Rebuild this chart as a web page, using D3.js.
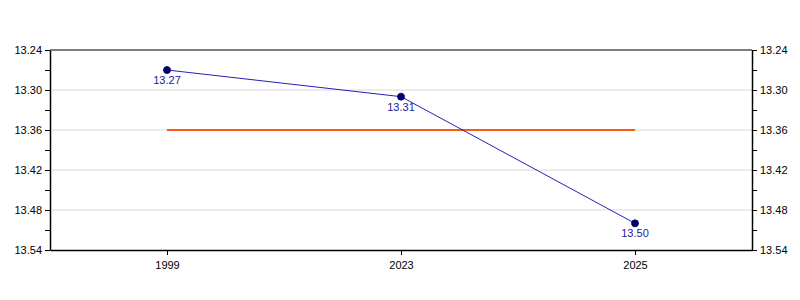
<!DOCTYPE html>
<html>
<head>
<meta charset="utf-8">
<script src="https://cdn.jsdelivr.net/npm/d3@7"></script>
<style>
  body { margin: 0; background: #fff; }
  svg { display: block; font-family: 'Liberation Sans', Arial, sans-serif; }
  .axis text { font-size: 11px; fill: #000; }
  .axis path, .axis line { stroke: #000; }
</style>
</head>
<body>
<script>
const years = ['1999', '2023', '2025']
const values = [13.27, 13.31, 13.50]
const refValue = 13.36
const yTicks = [13.24, 13.30, 13.36, 13.42, 13.48, 13.54]
const yMinorTicks = [13.27, 13.33, 13.39, 13.45, 13.51]

const margin = { top: 50, right: 48, bottom: 50, left: 50 }
const width = 800 - margin.left - margin.right
const height = 300 - margin.top - margin.bottom

const svg = d3.select('body').append('svg')
  .attr('width', 800)
  .attr('height', 300)
  .append('g')
    .attr('transform', `translate(${margin.left}, ${margin.top})`)

const xScale = d3.scalePoint().domain(years).range([0, width]).padding(0.5)
const yScale = d3.scaleLinear().domain([13.24, 13.54]).range([0, height])

// gridlines
svg.append('g')
  .selectAll('line')
  .data(yTicks.slice(1, -1))
  .enter().append('line')
    .attr('x1', 0)
    .attr('x2', width)
    .attr('y1', d => yScale(d))
    .attr('y2', d => yScale(d))
    .attr('stroke', '#d9d9d9')
    .attr('stroke-width', 1)

const fmt = d3.format('.2f')

svg.append('g')
  .attr('class', 'axis')
  .call(d3.axisLeft(yScale).tickValues(yTicks).tickFormat(fmt).tickSize(5).tickSizeOuter(0))
svg.append('g')
  .attr('class', 'axis')
  .call(d3.axisLeft(yScale).tickValues(yMinorTicks).tickFormat('').tickSize(5).tickSizeOuter(0))
  .select('.domain').remove()

svg.append('g')
  .attr('class', 'axis')
  .attr('transform', `translate(${width}, 0)`)
  .call(d3.axisRight(yScale).tickValues(yTicks).tickFormat(fmt).tickSize(5).tickSizeOuter(0))
svg.append('g')
  .attr('class', 'axis')
  .attr('transform', `translate(${width}, 0)`)
  .call(d3.axisRight(yScale).tickValues(yMinorTicks).tickFormat('').tickSize(5).tickSizeOuter(0))
  .select('.domain').remove()

svg.append('g')
  .attr('class', 'axis')
  .attr('transform', `translate(0, ${height})`)
  .call(d3.axisBottom(xScale).tickSize(5).tickSizeOuter(0).tickPadding(6))

// top border
svg.append('line')
  .attr('x1', 0).attr('x2', width)
  .attr('y1', 0).attr('y2', 0)
  .attr('stroke', '#000')

svg.selectAll('.axis .domain').attr('stroke-width', 1.5)

// reference line
svg.append('line')
  .attr('x1', xScale(years[0]))
  .attr('x2', xScale(years[years.length - 1]))
  .attr('y1', yScale(refValue))
  .attr('y2', yScale(refValue))
  .attr('stroke', '#ff5a14')
  .attr('stroke-width', 2)

const data = years.map((y, i) => ({ year: y, value: values[i] }))

svg.append('path')
  .datum(data)
  .attr('fill', 'none')
  .attr('stroke', '#2222bb')
  .attr('stroke-width', 1)
  .attr('d', d3.line().x(d => xScale(d.year)).y(d => yScale(d.value)))

svg.selectAll('.dot')
  .data(data)
  .enter().append('circle')
    .attr('class', 'dot')
    .attr('cx', d => xScale(d.year))
    .attr('cy', d => yScale(d.value))
    .attr('r', 3.5)
    .attr('fill', '#000080')
    .attr('stroke', '#000033')
    .attr('stroke-width', 0.8)

svg.selectAll('.lbl')
  .data(data)
  .enter().append('text')
    .attr('class', 'lbl')
    .attr('x', d => xScale(d.year))
    .attr('y', d => yScale(d.value) + 14)
    .attr('text-anchor', 'middle')
    .style('font-size', '11px')
    .attr('fill', '#1a1a99')
    .text(d => fmt(d.value))
</script>
</body>
</html>
